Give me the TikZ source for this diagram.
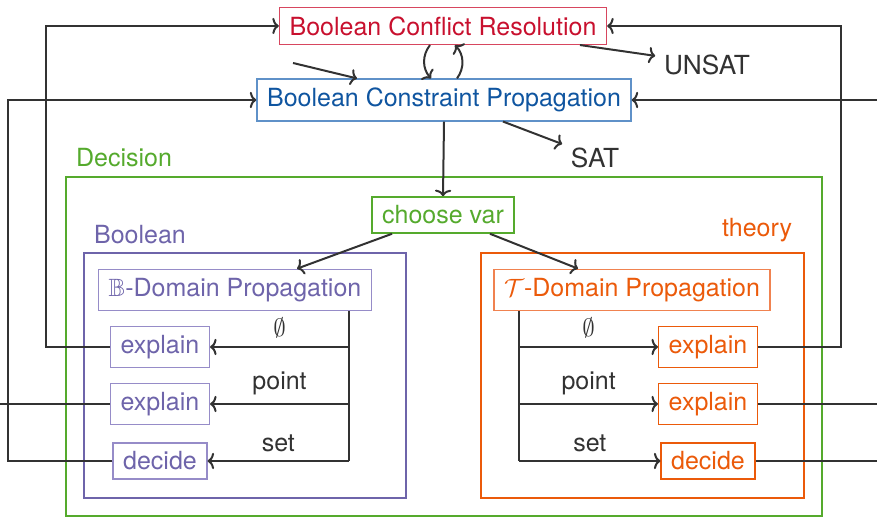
\documentclass[tikz,border=0pt]{standalone}
\usepackage{amssymb}
\usepackage{fontspec}
\setmainfont{TeX Gyre Heros}
\usetikzlibrary{calc,arrows.meta}

\definecolor{linegray}{RGB}{50,50,50}
\definecolor{redtext}{RGB}{200,16,46}
\definecolor{redline}{RGB}{215,70,95}
\definecolor{bluetext}{RGB}{15,85,160}
\definecolor{blueline}{RGB}{95,145,200}
\definecolor{greentext}{RGB}{85,170,45}
\definecolor{purpletext}{RGB}{110,100,170}
\definecolor{purpleline}{RGB}{150,140,200}
\definecolor{orangetext}{RGB}{235,90,10}
\definecolor{orangeline}{RGB}{240,130,80}

\begin{document}
\begin{tikzpicture}[x=0.4pt,y=0.4pt,>={To[length=2.6pt,width=6.5pt]},
    box/.style={draw,line width=0.6pt,inner xsep=4pt,inner ysep=3.5pt},
    link/.style={draw=linegray,line width=0.8pt},
    areabox/.style={line width=0.9pt}]
            \useasboundingbox (0,0) rectangle (877,517);
            % containers
            \draw[areabox,greentext] (66,1) rectangle (822,340);
            \draw[areabox,purpletext] (84,19) rectangle (406,264);
            \draw[areabox,orangetext] (481,19) rectangle (804,264);
            \node[text=greentext] (declabel) at (124,359) {Decision};
            \node[text=purpletext] (boollabel) at (140,282) {Boolean};
            \node[text=orangetext] (theorylabel) at (757,287) {theory};

            % main nodes
            \node[box,draw=redline,text=redtext] (bcr) at (443,491) {Boolean Conflict Resolution};
            \node[box,draw=blueline,text=bluetext] (bcp) at (444,417) {Boolean Constraint Propagation};
            \node[text=linegray,font=\fontsize{10.5}{12}\selectfont] (unsat) at (707,452) {UNSAT};
            \node[text=linegray,font=\fontsize{10.5}{12}\selectfont] (sat) at (595,359) {SAT};
            \node[box,draw=greentext,text=greentext] (choose) at (443,302) {choose var};

            \node[box,draw=purpleline,text=purpletext] (bdom) at (235,227) {$\mathbb{B}$-Domain Propagation};
            \node[box,draw=purpleline,text=purpletext] (bex1) at (160,170) {explain};
            \node[box,draw=purpleline,text=purpletext] (bex2) at (160,113) {explain};
            \node[box,draw=purpleline,text=purpletext] (bdec) at (160,56) {decide};

            \node[box,draw=orangeline,text=orangetext] (tdom) at (632,227) {$\mathcal{T}$-Domain Propagation};
            \node[box,draw=orangetext,text=orangetext] (tex1) at (708,170) {explain};
            \node[box,draw=orangetext,text=orangetext] (tex2) at (708,113) {explain};
            \node[box,draw=orangetext,text=orangetext] (tdec) at (708,56) {decide};

            \coordinate (bcpfeed) at (293,454);
            \coordinate (leftout) at (0,113);
            \coordinate (rightout2) at (877,113);
            \coordinate (rightout3) at (877,56);
            \coordinate (rightin) at (877,417);
            \coordinate (bbus) at ($(bdom.south east)+(-23,0)$);
            \coordinate (tbus) at ($(tdom.south west)+(26,0)$);

            % top loop
            \draw[link,->] ($(bcr.south)+(-13,0)$) to[bend right=40] ($(bcp.north)+(-13,0)$);
            \draw[link,->] ($(bcp.north)+(13,0)$) to[bend right=40] ($(bcr.south)+(12,0)$);
            \draw[link,->] (bcpfeed) -- ($(bcp.north)+(-87,0)$);
            \draw[link,->] ($(bcr.south)+(137,0)$) -- (unsat.170);
            \draw[link,->] ($(bcp.south)+(59,0)$) -- (sat.157);
            \draw[link,->] (bcp.south) -- (choose.north);
            \draw[link,->] ($(choose.south)+(-51,0)$) -- ($(bdom.north)+(62,0)$);
            \draw[link,->] ($(choose.south)+(47,0)$) -- ($(tdom.north)+(-54,0)$);

            % boolean side
            \draw[link] (bbus) -- (bbus |- bdec.east);
            \draw[link,->] (bbus |- bex1.east) -- (bex1.east) node[midway,above,text=linegray] {$\emptyset$};
            \draw[link,->] (bbus |- bex2.east) -- (bex2.east) node[midway,above,text=linegray] {point};
            \draw[link,->] (bbus |- bdec.east) -- (bdec.east) node[midway,above,text=linegray] {set};
            \draw[link,->] (bex1.west) -- ++(-64,0) |- (bcr.west);
            \draw[link] (bex2.west) -- (leftout);
            \draw[link,->] (bdec.west) -- ++(-104,0) |- (bcp.west);

            % theory side
            \draw[link] (tbus) -- (tbus |- tdec.west);
            \draw[link,->] (tbus |- tex1.west) -- (tex1.west) node[midway,above,text=linegray] {$\emptyset$};
            \draw[link,->] (tbus |- tex2.west) -- (tex2.west) node[midway,above,text=linegray] {point};
            \draw[link,->] (tbus |- tdec.west) -- (tdec.west) node[midway,above,text=linegray] {set};
            \draw[link,->] (tex1.east) -- ++(83,0) |- (bcr.east);
            \draw[link] (tex2.east) -- (rightout2);
            \draw[link] (tdec.east) -- (rightout3);
            \draw[link,->] (rightin) -- (bcp.east);

        \end{tikzpicture}
\end{document}
